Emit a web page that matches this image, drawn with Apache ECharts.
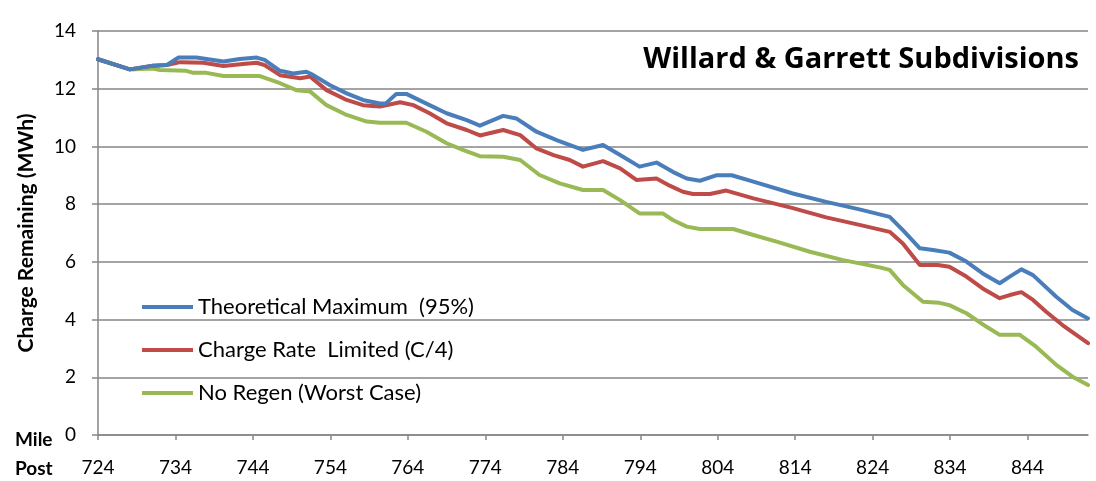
<!DOCTYPE html>
<html>
<head>
<meta charset="utf-8">
<script src="https://cdn.jsdelivr.net/npm/echarts@6/dist/echarts.min.js"></script>
<style>html,body{margin:0;padding:0;background:#fff}#c{width:1096px;height:481px}</style>
</head>
<body>
<div id="c"></div>
<script>
var seriesNames = ['Theoretical Maximum  (95%)', 'Charge Rate  Limited (C/4)', 'No Regen (Worst Case)'];
var seriesColors = ['#4a7ebb', '#be4b48', '#98b954'];
var xTickStart = 724, xTickStep = 10, xMax = 851.8;
var yMin = 0, yMax = 14, yStep = 2;

var theoreticalMax = [
 [724,13.02],[728.1,12.67],[731.1,12.80],[732.9,12.82],[734.4,13.08],[736.7,13.08],[738.0,13.03],[740.2,12.94],[742.3,13.03],[744.5,13.08],
 [745.5,13.0],[747.5,12.62],[749.2,12.53],[750.9,12.59],[751.8,12.47],[753.9,12.13],[756.1,11.84],[758.2,11.61],[760.4,11.49],[761.2,11.5],
 [762.5,11.82],[763.8,11.82],[766.8,11.43],[769.0,11.15],[771.6,10.91],[773.3,10.72],[776.3,11.06],[778.0,10.97],[780.6,10.51],[783.2,10.22],
 [786.6,9.88],[789.2,10.05],[791.4,9.70],[793.9,9.30],[796.1,9.44],[798.2,9.12],[800.0,8.89],[801.7,8.81],[803.8,9.0],[805.8,9.0],
 [808.6,8.78],[813.7,8.37],[818.0,8.08],[822.3,7.82],[826.2,7.56],[827.9,7.10],[830.1,6.47],[831.8,6.41],[833.9,6.32],[836.1,6.01],
 [838.2,5.60],[840.4,5.26],[841.7,5.49],[843.2,5.74],[844.7,5.54],[847.7,4.79],[849.8,4.33],[851.8,4.04]
];
var chargeRateLimited = [
 [724,13.02],[728.1,12.67],[731.1,12.80],[732.9,12.82],[734.6,12.92],[737.6,12.90],[740.2,12.79],[742.7,12.86],[744.5,12.90],[745.5,12.82],
 [747.5,12.47],[750.1,12.36],[751.4,12.42],[753.5,11.95],[756.1,11.61],[758.2,11.43],[760.4,11.38],[763.0,11.53],[764.7,11.43],[766.8,11.15],
 [769.0,10.80],[771.6,10.57],[773.3,10.38],[776.3,10.57],[778.5,10.39],[780.6,9.93],[782.8,9.70],[784.9,9.53],[786.6,9.30],[789.2,9.49],
 [791.4,9.24],[793.5,8.84],[796.1,8.89],[797.8,8.64],[799.5,8.43],[800.8,8.35],[803.0,8.35],[805.1,8.47],[808.6,8.20],[813.7,7.86],
 [818.0,7.54],[822.3,7.28],[826.2,7.04],[827.9,6.64],[830.1,5.89],[832.4,5.89],[833.9,5.83],[836.1,5.49],[838.2,5.08],[840.4,4.74],
 [841.7,4.85],[843.2,4.95],[844.7,4.68],[846.4,4.27],[848.5,3.81],[851.8,3.18]
];
var noRegen = [
 [724,13.02],[728.1,12.67],[731.1,12.70],[732.0,12.65],[735.4,12.62],[736.3,12.55],[738.0,12.55],[740.2,12.44],[744.9,12.44],[747.5,12.19],
 [749.6,11.95],[751.4,11.90],[753.5,11.43],[756.1,11.09],[758.7,10.86],[760.4,10.82],[763.8,10.82],[766.4,10.51],[769.0,10.11],[771.1,9.88],
 [773.3,9.66],[776.3,9.64],[778.5,9.53],[781.0,9.01],[783.6,8.72],[786.6,8.49],[789.2,8.49],[791.4,8.14],[793.9,7.68],[796.9,7.68],
 [798.2,7.45],[800.0,7.22],[801.7,7.14],[806.0,7.14],[808.6,6.93],[811.6,6.70],[815.9,6.35],[820.2,6.06],[824.9,5.81],[826.2,5.72],
 [827.9,5.20],[830.5,4.62],[832.6,4.58],[833.9,4.50],[836.1,4.22],[838.7,3.75],[840.4,3.47],[843.0,3.47],[845.1,3.06],[847.7,2.43],
 [849.8,2.02],[851.8,1.73]
];
var seriesData = [theoreticalMax, chargeRateLimited, noRegen];

var FONT = 'Lato';
var chart = echarts.init(document.getElementById('c'));
var gray = '#868686';
chart.setOption({
  animation: false,
  textStyle: { fontFamily: FONT },
  grid: { left: 98, right: 8, top: 31, bottom: 46, containLabel: false },
  title: {
    text: 'Willard & Garrett Subdivisions',
    right: 12, top: 40,
    textStyle: { fontFamily: 'Open Sans', fontSize: 29, fontWeight: 'bold', color: '#000' }
  },
  legend: {
    orient: 'vertical', left: 137, top: 291,
    itemWidth: 51, itemHeight: 4, itemGap: 21,
    icon: 'rect',
    textStyle: { fontFamily: FONT, fontSize: 22, lineHeight: 22, color: '#000' },
    data: seriesNames.map(function(n, i){ return { name: n, itemStyle: { color: seriesColors[i] } }; })
  },
  xAxis: {
    type: 'value', min: xTickStart, max: xMax, interval: xTickStep,
    axisLine: { onZero: false, lineStyle: { color: gray, width: 1.5 } },
    axisTick: { show: true, length: 5, lineStyle: { color: gray, width: 1.5 } },
    splitLine: { show: false },
    axisLabel: { margin: 23, fontSize: 19, color: '#000', fontFamily: FONT, showMaxLabel: false,
      formatter: function(v){ return String(v); } }
  },
  yAxis: {
    type: 'value', min: yMin, max: yMax, interval: yStep,
    name: 'Charge Remaining (MWh)', nameLocation: 'middle', nameGap: 61,
    nameTextStyle: { fontFamily: FONT, fontSize: 21, fontWeight: 'bold', color: '#000' },
    axisLine: { show: true, lineStyle: { color: gray, width: 1.5 } },
    axisTick: { show: true, length: 6, lineStyle: { color: gray, width: 1.5 } },
    splitLine: { show: true, lineStyle: { color: gray, width: 1.5 } },
    axisLabel: { margin: 22, fontSize: 19, color: '#000', fontFamily: FONT, padding: [6, 0, 0, 0] }
  },
  graphic: [
    { type: 'text', left: 15, top: 430, style: { text: 'Mile', font: 'bold 19px ' + FONT, fill: '#000' } },
    { type: 'text', left: 15, top: 459, style: { text: 'Post', font: 'bold 19px ' + FONT, fill: '#000' } }
  ],
  series: seriesNames.map(function(n, i){
    return {
      name: n, type: 'line', data: seriesData[i], showSymbol: false, symbol: 'none',
      lineStyle: { color: seriesColors[i], width: 4, cap: 'round', join: 'round' },
      itemStyle: { color: seriesColors[i] },
      z: 3 - i
    };
  })
});
</script>
</body>
</html>
